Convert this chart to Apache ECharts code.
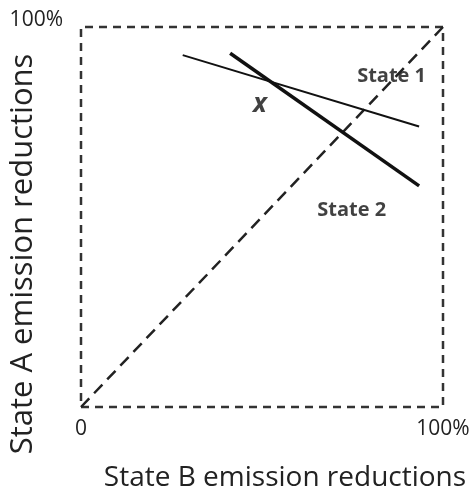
<!DOCTYPE html>
<html><head><meta charset="utf-8">
<script src="https://cdn.jsdelivr.net/npm/echarts@6/dist/echarts.min.js"></script>
<style>html,body{margin:0;padding:0;background:#fff}#c{width:471px;height:488px}</style>
</head><body><div id="c"></div>
<script>
const xTicks = [0, 100];
const xTickLabels = ['0', '100%'];
const yTicks = [100];
const yTickLabels = ['100%'];
const xTitle = 'State B emission reductions';
const yTitle = 'State A emission reductions';
const boxPath = [[0,0],[100,0],[100,100],[0,100],[0,0]];
const diagonal = [[0,0],[100,100]];
const state1 = [[28.1,92.6],[93.4,73.8]];
const state2 = [[41.2,93.1],[93.4,58.2]];
const labelNames = ['State 1','State 2','x'];
const labelPos = [[85.8,87.1],[74.8,51.8],[49.4,79.7]];

const F = 'Open Sans, Lato, sans-serif';
const chart = echarts.init(document.getElementById('c'));
chart.setOption({
  animation:false,
  grid:{left:81, top:27, width:362, height:380, outerBoundsMode:'none', containLabel:false},
  xAxis:{type:'value',min:0,max:100,interval:100,
    axisLine:{show:false},axisTick:{show:false},splitLine:{show:false},
    axisLabel:{margin:12,fontSize:21,color:'#222',fontFamily:F,
      formatter:v=>{const i=xTicks.indexOf(v);return i>=0?xTickLabels[i]:'';}},
    name:xTitle,nameLocation:'middle',nameGap:57,
    nameTextStyle:{fontSize:28,color:'#222',fontFamily:F,padding:[0,0,0,46]}},
  yAxis:{type:'value',min:0,max:100,interval:100,
    axisLine:{show:false},axisTick:{show:false},splitLine:{show:false},
    axisLabel:{margin:18,fontSize:21,color:'#222',fontFamily:F,verticalAlign:'bottom',
      lineHeight:14,
      formatter:v=>{const i=yTicks.indexOf(v);return i>=0?yTickLabels[i]:'';}}},
  graphic:[{type:'text',x:23,y:254,rotation:Math.PI/2,
    style:{text:yTitle,fontSize:31,fontFamily:F,fill:'#222',align:'center',verticalAlign:'middle'}}],
  series:[
    {type:'line',data:boxPath,symbol:'none',clip:false,
      lineStyle:{color:'#333',width:2.5,type:[8,6]}},
    {type:'line',data:diagonal,symbol:'none',clip:false,
      lineStyle:{color:'#222',width:2.5,type:[12,7]}},
    {type:'line',data:state1,symbol:'none',lineStyle:{color:'#111',width:2}},
    {type:'line',data:state2,symbol:'none',lineStyle:{color:'#111',width:3.5}},
    {type:'scatter',symbolSize:0,
      data:labelNames.map((n,i)=>({value:labelPos[i],name:n,
        label:n==='x'?{fontStyle:'italic',fontSize:26}:{}})),
      label:{show:true,position:'inside',formatter:p=>p.name,
        fontFamily:F,fontWeight:'bold',fontSize:20,color:'#111'}}
  ]
});
</script></body></html>
